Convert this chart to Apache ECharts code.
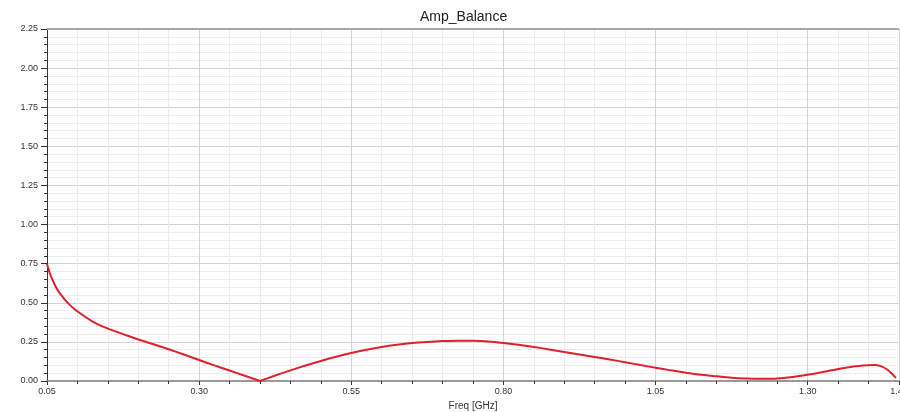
<!DOCTYPE html>
<html>
<head>
<meta charset="utf-8">
<script src="https://cdn.jsdelivr.net/npm/echarts@6/dist/echarts.min.js"></script>
<style>
html,body{margin:0;padding:0;background:#fff;}
#chart{width:900px;height:412px;}
</style>
</head>
<body>
<div id="chart"></div>
<script>
var titleText = 'Amp_Balance';
var xAxisName = 'Freq [GHz]';
var freq = [0.05,0.0525,0.055,0.06,0.065,0.07,0.08,0.09,0.10,0.125,0.15,0.175,0.20,0.225,0.25,0.275,0.30,0.325,0.35,0.375,0.40,0.425,0.45,0.475,0.50,0.525,0.55,0.575,0.60,0.625,0.65,0.675,0.70,0.725,0.75,0.775,0.80,0.825,0.85,0.875,0.90,0.925,0.95,0.975,1.00,1.025,1.05,1.075,1.10,1.125,1.15,1.175,1.20,1.225,1.25,1.275,1.30,1.325,1.35,1.375,1.40,1.41,1.42,1.43,1.44,1.445];
var ampBalance = [0.748,0.715,0.685,0.638,0.598,0.566,0.517,0.477,0.445,0.38,0.335,0.30,0.265,0.235,0.203,0.169,0.134,0.10,0.067,0.034,0.0,0.035,0.068,0.099,0.128,0.155,0.179,0.20,0.218,0.232,0.243,0.25,0.255,0.258,0.257,0.252,0.243,0.232,0.218,0.202,0.186,0.17,0.154,0.137,0.12,0.102,0.085,0.068,0.053,0.04,0.03,0.021,0.016,0.014,0.016,0.026,0.04,0.057,0.077,0.093,0.101,0.102,0.095,0.075,0.04,0.02];

var chart = echarts.init(document.getElementById('chart'));
var data = freq.map(function(f,i){return [f, ampBalance[i]];});
var vIdx = ampBalance.indexOf(Math.min.apply(null, ampBalance.slice(0, 30)));
var lineStyle = {color:'#e0202c',width:2};
chart.setOption({
  animation:false,
  backgroundColor:'#ffffff',
  title:{text:titleText,left:415,top:5,textStyle:{fontFamily:'Liberation Sans, Arial',fontSize:14,fontWeight:'normal',color:'#222'}},
  grid:{left:47,right:1,top:29,bottom:31,show:false,containLabel:false,outerBoundsMode:'none'},
  xAxis:{type:'value',min:0.05,max:1.45,interval:0.25,
    name:xAxisName,nameLocation:'middle',nameGap:20,
    nameTextStyle:{fontFamily:'Liberation Sans, Arial',fontSize:10,color:'#333'},
    axisLine:{show:true,lineStyle:{color:'#9a9a9a',width:2}},
    axisTick:{show:true,inside:false,length:4,lineStyle:{color:'#333'}},
    minorTick:{show:true,splitNumber:5,length:3,lineStyle:{color:'#333'}},
    axisLabel:{fontFamily:'Liberation Sans, Arial',fontSize:9,color:'#333',margin:6,formatter:function(v){return v.toFixed(2);}},
    splitLine:{show:true,lineStyle:{color:'#d4d4d4',width:1}},
    minorSplitLine:{show:true,lineStyle:{color:'#ececec',width:1}}
  },
  yAxis:{type:'value',min:0,max:2.25,interval:0.25,
    axisLine:{show:true,lineStyle:{color:'#333',width:1}},
    axisTick:{show:true,length:6,lineStyle:{color:'#333'}},
    minorTick:{show:true,splitNumber:5,length:3,lineStyle:{color:'#333'}},
    axisLabel:{fontFamily:'Liberation Sans, Arial',fontSize:9,color:'#333',margin:9,formatter:function(v){return v.toFixed(2);}},
    splitLine:{show:true,lineStyle:{color:'#d4d4d4',width:1}},
    minorSplitLine:{show:true,lineStyle:{color:'#ececec',width:1}}
  },
  series:[
    {type:'line',data:[[0.05,2.25],[1.45,2.25]],showSymbol:false,silent:true,z:1,
      lineStyle:{color:'#a8a8a8',width:2}},
    {type:'line',data:data.slice(0,vIdx+1),showSymbol:false,smooth:0.3,z:3,
      lineStyle:lineStyle,itemStyle:{color:'#e0202c'}},
    {type:'line',data:data.slice(vIdx),showSymbol:false,smooth:0.3,z:3,
      lineStyle:lineStyle,itemStyle:{color:'#e0202c'}}
  ]
});
</script>
</body>
</html>
